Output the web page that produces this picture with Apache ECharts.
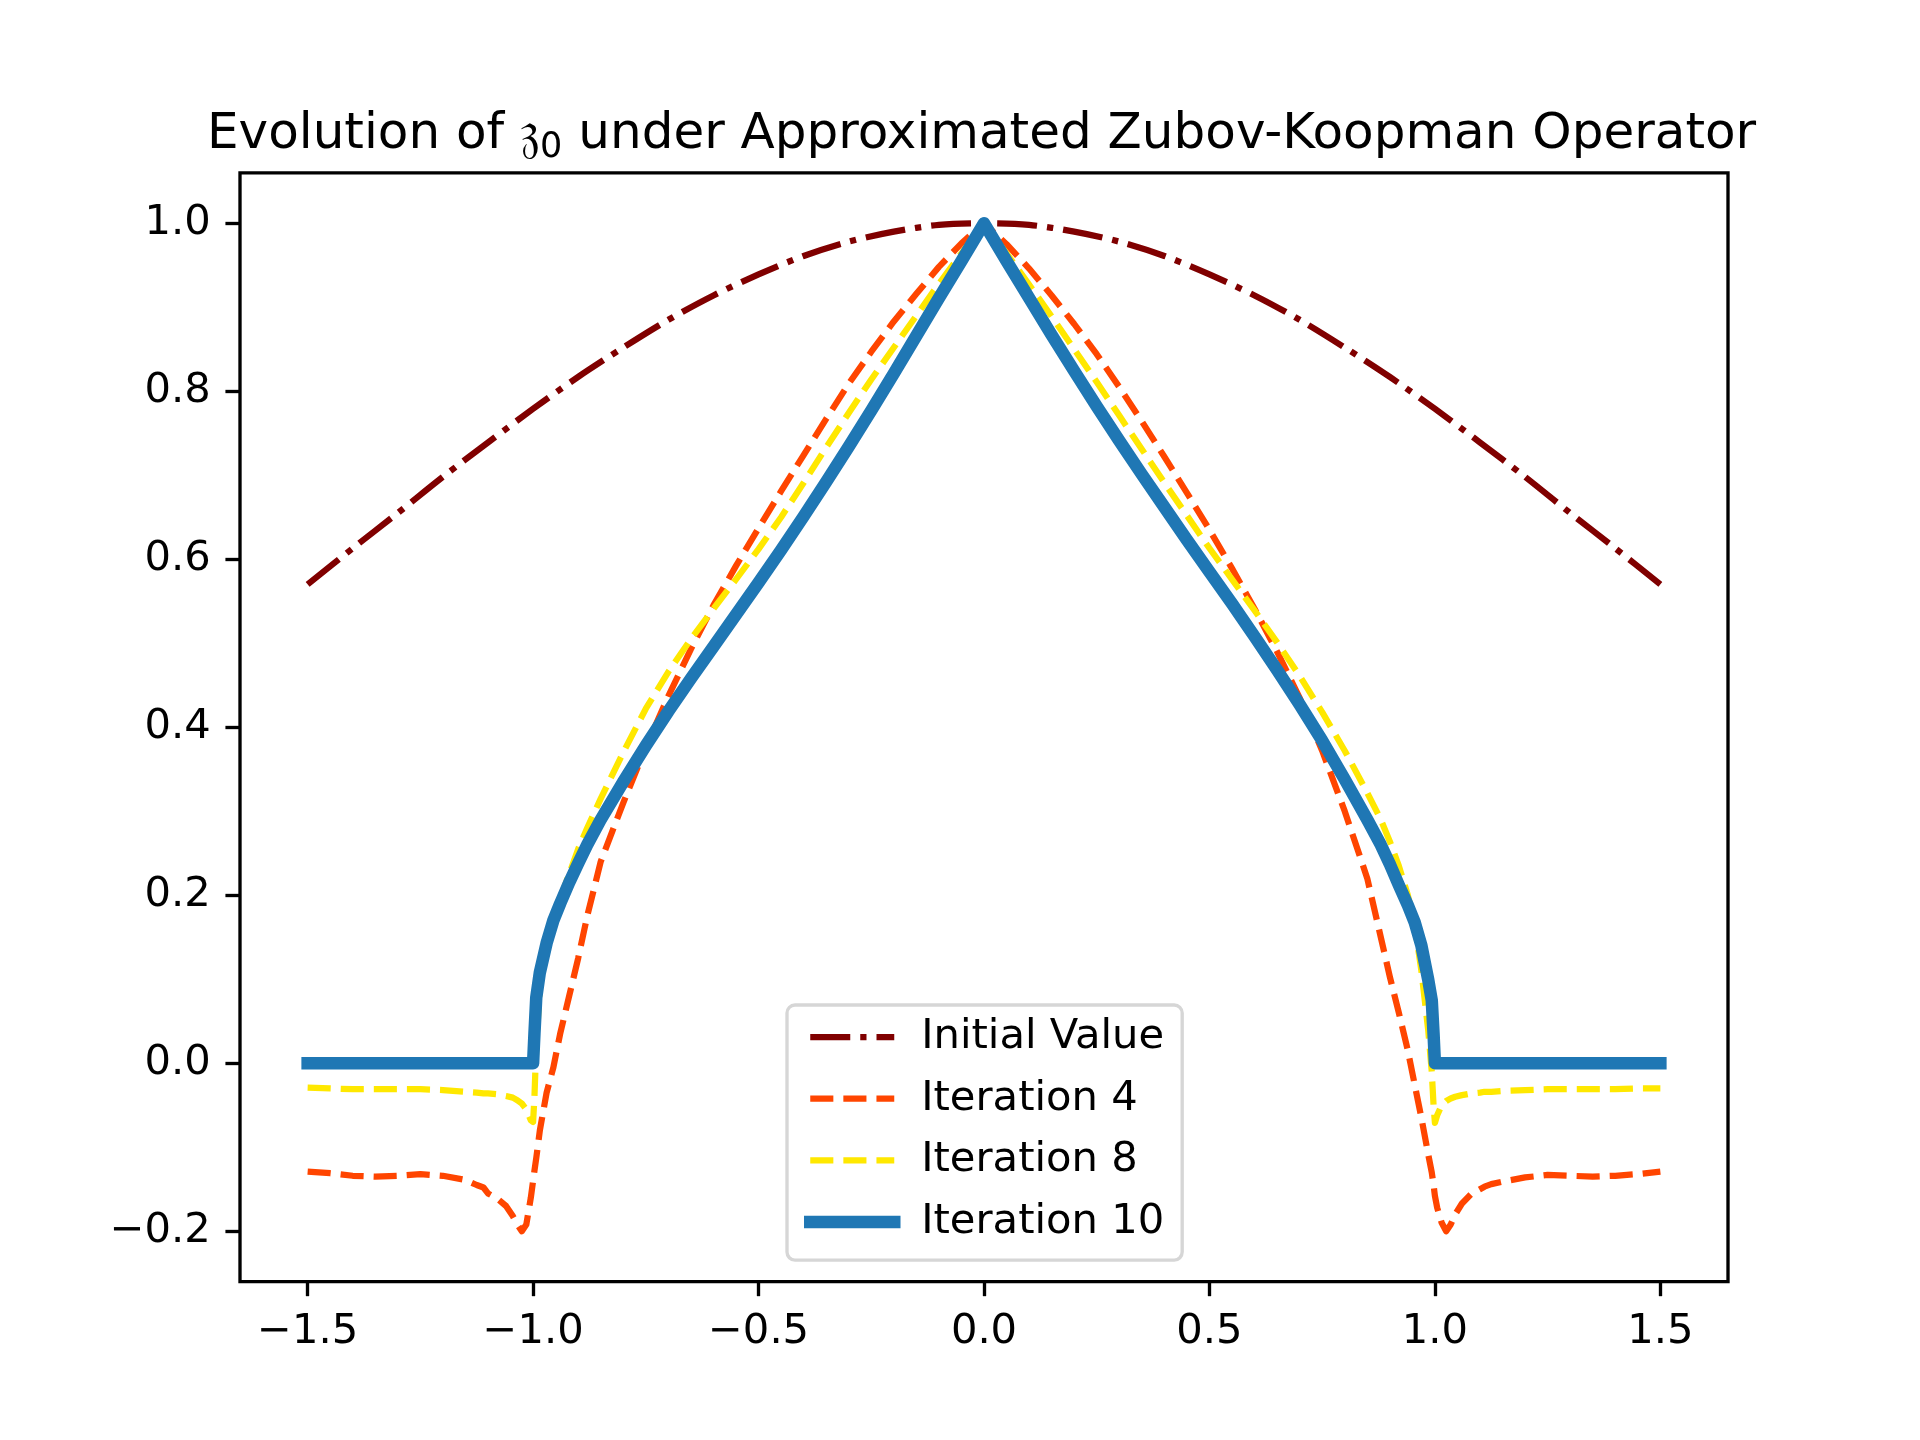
<!DOCTYPE html>
<html>
<head>
<meta charset="utf-8">
<title>Evolution under Approximated Zubov-Koopman Operator</title>
<script src="https://cdn.jsdelivr.net/npm/echarts@6/dist/echarts.min.js"></script>
<style>
  html, body { margin: 0; padding: 0; background: #fff; }
  #chart { width: 1920px; height: 1440px; }
</style>
</head>
<body>
<div id="chart"></div>
<script>
// sample grid shared by the iteration curves (denser near x = +-1)
const xGrid = [
  -1.5, -1.45, -1.4, -1.35, -1.3, -1.25, -1.2, -1.15,
  -1.125, -1.11, -1.1, -1.08, -1.06, -1.045, -1.035, -1.025, -1.015, -1.005,
  -1.0, -0.997, -0.993, -0.985, -0.97, -0.955, -0.94, -0.92, -0.9, -0.88, -0.85,
  -0.8, -0.75, -0.7, -0.65, -0.6, -0.55, -0.5, -0.45, -0.4, -0.35, -0.3, -0.25, -0.2, -0.15, -0.1, -0.05,
  0,
  0.05, 0.1, 0.15, 0.2, 0.25, 0.3, 0.35, 0.4, 0.45, 0.5, 0.55, 0.6, 0.65, 0.7, 0.75, 0.8, 0.85,
  0.88, 0.9, 0.92, 0.94, 0.955, 0.97, 0.985, 0.993, 0.997, 1.0,
  1.005, 1.015, 1.025, 1.035, 1.045, 1.06, 1.08, 1.1, 1.11, 1.125, 1.15,
  1.2, 1.25, 1.3, 1.35, 1.4, 1.45, 1.5
];

const iter4 = [
  -0.129, -0.131, -0.134, -0.135, -0.134, -0.132, -0.134, -0.139,
  -0.145, -0.148, -0.155, -0.161, -0.17, -0.182, -0.192, -0.2, -0.192, -0.16,
  -0.14, -0.128, -0.113, -0.08, -0.035, -0.005, 0.035, 0.08, 0.125, 0.175, 0.24,
  0.31, 0.376, 0.437, 0.493, 0.545, 0.592, 0.637, 0.681, 0.724, 0.767, 0.809, 0.847, 0.883, 0.916, 0.948, 0.976,
  1.0,
  0.975, 0.946, 0.914, 0.88, 0.844, 0.805, 0.764, 0.722, 0.679, 0.635, 0.589, 0.541, 0.49, 0.435, 0.372, 0.3, 0.22,
  0.15, 0.103, 0.06, 0.015, -0.025, -0.065, -0.108, -0.13, -0.145, -0.158,
  -0.172, -0.19, -0.2, -0.192, -0.18, -0.167, -0.156, -0.15, -0.147, -0.144, -0.141,
  -0.136, -0.133, -0.134, -0.135, -0.134, -0.132, -0.129
];

const iter8 = [
  -0.029, -0.03, -0.031, -0.031, -0.031, -0.031, -0.032, -0.034,
  -0.035, -0.036, -0.036, -0.037, -0.039, -0.041, -0.044, -0.048, -0.055, -0.068,
  -0.07, -0.04, 0.02, 0.09, 0.145, 0.172, 0.196, 0.225, 0.255, 0.28, 0.315,
  0.37, 0.422, 0.466, 0.505, 0.541, 0.576, 0.612, 0.65, 0.691, 0.733, 0.774, 0.814, 0.852, 0.89, 0.928, 0.964,
  1.0,
  0.964, 0.927, 0.889, 0.85, 0.811, 0.771, 0.731, 0.691, 0.652, 0.613, 0.576, 0.539, 0.501, 0.461, 0.418, 0.372, 0.322,
  0.29, 0.264, 0.235, 0.2, 0.165, 0.11, 0.04, -0.01, -0.05, -0.071,
  -0.062, -0.05, -0.045, -0.042, -0.04, -0.038, -0.036, -0.035, -0.034, -0.034, -0.033,
  -0.032, -0.031, -0.031, -0.031, -0.031, -0.03, -0.03
];

const iter10 = [
  0, 0, 0, 0, 0, 0, 0, 0,
  0, 0, 0, 0, 0, 0, 0, 0, 0, 0,
  0, 0.035, 0.078, 0.108, 0.143, 0.17, 0.19, 0.215, 0.238, 0.26, 0.29,
  0.335, 0.378, 0.419, 0.458, 0.496, 0.534, 0.572, 0.611, 0.651, 0.692, 0.734, 0.777, 0.821, 0.866, 0.911, 0.955,
  1.0,
  0.955, 0.911, 0.867, 0.824, 0.782, 0.741, 0.701, 0.662, 0.623, 0.585, 0.547, 0.508, 0.468, 0.427, 0.384, 0.338, 0.29,
  0.26, 0.237, 0.212, 0.188, 0.168, 0.14, 0.1, 0.075, 0.035, 0,
  0, 0, 0, 0, 0, 0, 0, 0, 0, 0, 0,
  0, 0, 0, 0, 0, 0, 0
];

const xInit = [-1.5, -1.4, -1.3, -1.2, -1.1, -1.0, -0.9, -0.8, -0.7, -0.6, -0.5, -0.4, -0.3, -0.2, -0.1, 0,
  0.1, 0.2, 0.3, 0.4, 0.5, 0.6, 0.7, 0.8, 0.9, 1.0, 1.1, 1.2, 1.3, 1.4, 1.5];
const yInit = [0.570, 0.613, 0.655, 0.698, 0.739, 0.779, 0.817, 0.852, 0.885, 0.914, 0.939, 0.961, 0.978, 0.990, 0.998, 1.0,
  0.998, 0.990, 0.978, 0.961, 0.939, 0.914, 0.885, 0.852, 0.817, 0.779, 0.739, 0.698, 0.655, 0.613, 0.570];

const xTicks = [-1.5, -1.0, -0.5, 0.0, 0.5, 1.0, 1.5];
const yTicks = [-0.2, 0.0, 0.2, 0.4, 0.6, 0.8, 1.0];

const seriesNames = ['Initial Value', 'Iteration 4', 'Iteration 8', 'Iteration 10'];
const seriesColors = ['#800000', '#FF4500', '#FFE800', '#1f77b4'];

function pairs(xs, ys) {
  return xs.map((x, i) => [x, ys[i]]);
}
function tickLabel(v) {
  return v.toFixed(1).replace('-', '\u2212');
}

const FONT = "'DejaVu Sans', sans-serif";
const PT = 300 / 72; // figure was 300 dpi

const styles = [
  { color: seriesColors[0], width: 1.5 * PT, type: [40, 10, 6.25, 10], cap: 'butt', join: 'round' },
  { color: seriesColors[1], width: 1.5 * PT, type: [23.1, 10], cap: 'butt', join: 'round' },
  { color: seriesColors[2], width: 1.5 * PT, type: [23.1, 10], cap: 'butt', join: 'round' },
  { color: seriesColors[3], width: 3 * PT, type: 'solid', cap: 'square', join: 'round' }
];

const chart = echarts.init(document.getElementById('chart'), null, { renderer: 'canvas' });

const axisCommon = {
  type: 'value',
  axisLine: { show: false, onZero: false },
  splitLine: { show: false },
  axisTick: { show: true, inside: false, length: 3.5 * PT, lineStyle: { color: '#000', width: 0.8 * PT } },
  axisLabel: { color: '#000', fontFamily: FONT, fontSize: 10 * PT, margin: 7 * PT, formatter: tickLabel }
};

chart.setOption({
  animation: false,
  backgroundColor: '#fff',
  title: {
    text: '{n|Evolution of }{fz|\u{1D537}}{sub|0}{n| under Approximated Zubov-Koopman Operator}',
    left: 207,
    top: 105,
    padding: 0,
    textStyle: {
      fontWeight: 'normal',
      rich: {
        n: { fontFamily: FONT, fontWeight: 'normal', fontSize: 12 * PT, lineHeight: 60, color: '#000' },
        fz: { fontFamily: "'DejaVu Serif', 'DejaVu Sans', serif", fontWeight: 'normal', fontSize: 56, lineHeight: 60, color: '#000' },
        sub: { fontFamily: FONT, fontWeight: 'normal', fontSize: 35, lineHeight: 15, verticalAlign: 'bottom', color: '#000' }
      }
    }
  },
  grid: {
    left: 240, right: 192, top: 172.8, bottom: 158.4,
    show: true, borderColor: '#000', borderWidth: 0.8 * PT, backgroundColor: 'transparent'
  },
  xAxis: Object.assign({}, axisCommon, {
    min: -1.65, max: 1.65,
    axisTick: Object.assign({}, axisCommon.axisTick, { customValues: xTicks }),
    axisLabel: Object.assign({}, axisCommon.axisLabel, { customValues: xTicks })
  }),
  yAxis: Object.assign({}, axisCommon, {
    min: -0.26, max: 1.06,
    axisTick: Object.assign({}, axisCommon.axisTick, { customValues: yTicks }),
    axisLabel: Object.assign({}, axisCommon.axisLabel, { customValues: yTicks })
  }),
  legend: {
    data: seriesNames.map((name, i) => ({ name: name, lineStyle: styles[i] })),
    orient: 'vertical',
    left: 787,
    top: 1005,
    padding: [11, 18, 17, 17],
    itemWidth: 84,
    itemHeight: 42,
    itemGap: 19.7,
    selectedMode: false,
    backgroundColor: 'rgba(255,255,255,0.8)',
    borderColor: '#d6d6d6',
    borderWidth: 0.8 * PT,
    borderRadius: 8,
    itemStyle: { opacity: 0 },
    textStyle: { color: '#000', fontFamily: FONT, fontSize: 10 * PT, lineHeight: 42, padding: [0, 0, 0, 22] }
  },
  series: [
    {
      name: seriesNames[0], type: 'line', data: pairs(xInit, yInit),
      showSymbol: false, symbol: 'none', smooth: 0.3,
      lineStyle: styles[0], itemStyle: { color: seriesColors[0] },
      emphasis: { disabled: true }, z: 2
    },
    {
      name: seriesNames[1], type: 'line', data: pairs(xGrid, iter4),
      showSymbol: false, symbol: 'none',
      lineStyle: styles[1], itemStyle: { color: seriesColors[1] },
      emphasis: { disabled: true }, z: 3
    },
    {
      name: seriesNames[2], type: 'line', data: pairs(xGrid, iter8),
      showSymbol: false, symbol: 'none',
      lineStyle: styles[2], itemStyle: { color: seriesColors[2] },
      emphasis: { disabled: true }, z: 4
    },
    {
      name: seriesNames[3], type: 'line', data: pairs(xGrid, iter10),
      showSymbol: false, symbol: 'none',
      lineStyle: styles[3], itemStyle: { color: seriesColors[3] },
      emphasis: { disabled: true }, z: 5
    }
  ]
});
</script>
</body>
</html>
